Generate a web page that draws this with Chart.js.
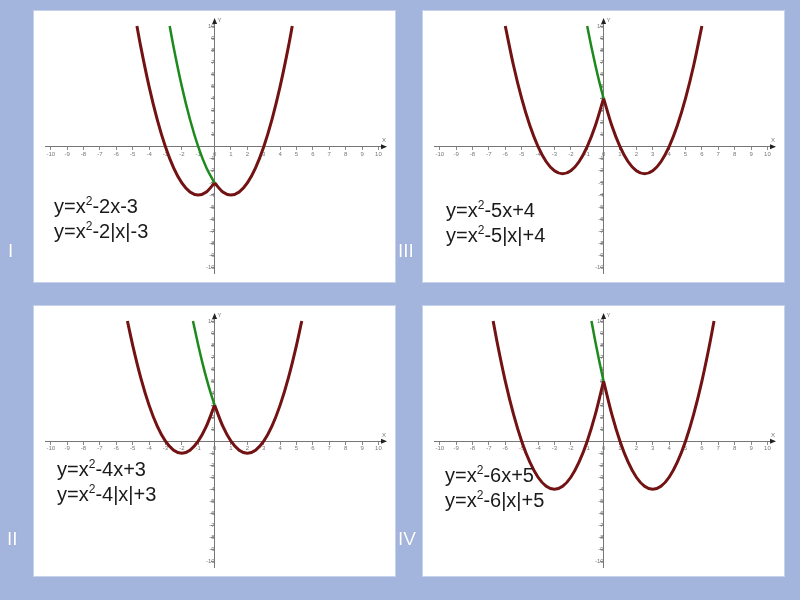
<!DOCTYPE html>
<html>
<head>
<meta charset="utf-8">
<script src="https://cdn.jsdelivr.net/npm/chart.js@4"></script>
<style>
  html, body { margin: 0; padding: 0; }
  body { width: 800px; height: 600px; background: #a4b5dd; position: relative; overflow: hidden; font-family: "Liberation Sans", Arial, sans-serif; }
  .panel { position: absolute; background: #ffffff; box-shadow: 0 0 0 1px #c6d1ec; }
  .panel canvas { position: absolute; left: 0; top: 0; }
  .formula { position: absolute; font-size: 20px; color: #1a1a1a; line-height: 25px; white-space: nowrap; }
  .formula div { height: 25px; line-height: 25px; }
  .formula sup { font-size: 12px; line-height: 0; vertical-align: 0; position: relative; top: -8px; }
  .roman { position: absolute; color: #ffffff; font-size: 19px; text-shadow: 0 0 1px #8090b8; }
</style>
</head>
<body>
<script>
// ---- data ----
const tickValues = [-10,-9,-8,-7,-6,-5,-4,-3,-2,-1,0,1,2,3,4,5,6,7,8,9,10];

// Panel I : y=x^2-2x-3 (green, x<=0) and y=x^2-2|x|-3 (red)
const p1RedLeftX  = [-4.74,-4.5,-4,-3.5,-3,-2.5,-2,-1.5,-1,-0.5,0];
const p1RedLeftY  = [10,8.25,5,2.25,0,-1.75,-3,-3.75,-4,-3.75,-3];
const p1RedRightX = [0,0.5,1,1.5,2,2.5,3,3.5,4,4.5,4.74];
const p1RedRightY = [-3,-3.75,-4,-3.75,-3,-1.75,0,2.25,5,8.25,10];
const p1GreenX    = [-2.74,-2.5,-2,-1.5,-1,-0.5,0];
const p1GreenY    = [10,8.25,5,2.25,0,-1.75,-3];
const p1Text      = [["y=x","2","-2x-3"],["y=x","2","-2|x|-3"]];

// Panel II : y=x^2-4x+3 and y=x^2-4|x|+3
const p2RedLeftX  = [-5.32,-5,-4.5,-4,-3.5,-3,-2.5,-2,-1.5,-1,-0.5,0];
const p2RedLeftY  = [10,8,5.25,3,1.25,0,-0.75,-1,-0.75,0,1.25,3];
const p2RedRightX = [0,0.5,1,1.5,2,2.5,3,3.5,4,4.5,5,5.32];
const p2RedRightY = [3,1.25,0,-0.75,-1,-0.75,0,1.25,3,5.25,8,10];
const p2GreenX    = [-1.32,-1,-0.75,-0.5,-0.25,0];
const p2GreenY    = [10,8,6.56,5.25,4.06,3];
const p2Text      = [["y=x","2","-4x+3"],["y=x","2","-4|x|+3"]];

// Panel III : y=x^2-5x+4 and y=x^2-5|x|+4
const p3RedLeftX  = [-6,-5.5,-5,-4.5,-4,-3.5,-3,-2.5,-2,-1.5,-1,-0.5,0];
const p3RedLeftY  = [10,6.75,4,1.75,0,-1.25,-2,-2.25,-2,-1.25,0,1.75,4];
const p3RedRightX = [0,0.5,1,1.5,2,2.5,3,3.5,4,4.5,5,5.5,6];
const p3RedRightY = [4,1.75,0,-1.25,-2,-2.25,-2,-1.25,0,1.75,4,6.75,10];
const p3GreenX    = [-1,-0.75,-0.5,-0.25,0];
const p3GreenY    = [10,8.31,6.75,5.31,4];
const p3Text      = [["y=x","2","-5x+4"],["y=x","2","-5|x|+4"]];

// Panel IV : y=x^2-6x+5 and y=x^2-6|x|+5
const p4RedLeftX  = [-6.74,-6.5,-6,-5.5,-5,-4.5,-4,-3.5,-3,-2.5,-2,-1.5,-1,-0.5,0];
const p4RedLeftY  = [10,8.25,5,2.25,0,-1.75,-3,-3.75,-4,-3.75,-3,-1.75,0,2.25,5];
const p4RedRightX = [0,0.5,1,1.5,2,2.5,3,3.5,4,4.5,5,5.5,6,6.5,6.74];
const p4RedRightY = [5,2.25,0,-1.75,-3,-3.75,-4,-3.75,-3,-1.75,0,2.25,5,8.25,10];
const p4GreenX    = [-0.74,-0.5,-0.25,0];
const p4GreenY    = [10,8.25,6.56,5];
const p4Text      = [["y=x","2","-6x+5"],["y=x","2","-6|x|+5"]];

const romanLabels = ["I","II","III","IV"];

// ---- layout ----
const panels = [
  {left:34,  top:11,  w:361, h:271, red:[[p1RedLeftX,p1RedLeftY],[p1RedRightX,p1RedRightY]], green:[p1GreenX,p1GreenY], text:p1Text, tx:54,  ty:194},
  {left:34,  top:306, w:361, h:270, red:[[p2RedLeftX,p2RedLeftY],[p2RedRightX,p2RedRightY]], green:[p2GreenX,p2GreenY], text:p2Text, tx:57,  ty:457},
  {left:423, top:11,  w:361, h:271, red:[[p3RedLeftX,p3RedLeftY],[p3RedRightX,p3RedRightY]], green:[p3GreenX,p3GreenY], text:p3Text, tx:446, ty:198},
  {left:423, top:306, w:361, h:270, red:[[p4RedLeftX,p4RedLeftY],[p4RedRightX,p4RedRightY]], green:[p4GreenX,p4GreenY], text:p4Text, tx:445, ty:463}
];
const romanPos = [[8,240],[7,528],[398,240],[398,528]];

function pts(xs, ys) { return xs.map((x, i) => ({x: x, y: ys[i]})); }

const axisDecor = {
  id: 'axisDecor',
  afterDraw(chart) {
    const {ctx} = chart;
    const xs = chart.scales.x, ys = chart.scales.y;
    const ox = xs.getPixelForValue(0), oy = ys.getPixelForValue(0);
    ctx.save();
    ctx.fillStyle = '#222';
    const xr = xs.right;
    ctx.beginPath();
    ctx.moveTo(xr + 2, oy); ctx.lineTo(xr - 4, oy - 2.5); ctx.lineTo(xr - 4, oy + 2.5); ctx.closePath(); ctx.fill();
    const yt = ys.top;
    ctx.beginPath();
    ctx.moveTo(ox, yt - 2); ctx.lineTo(ox - 2.5, yt + 4); ctx.lineTo(ox + 2.5, yt + 4); ctx.closePath(); ctx.fill();
    ctx.fillStyle = '#777';
    ctx.font = '6px "Liberation Sans", Arial, sans-serif';
    ctx.textAlign = 'left'; ctx.textBaseline = 'middle';
    ctx.fillText('Y', ox + 3, yt);
    ctx.textAlign = 'center'; ctx.textBaseline = 'bottom';
    ctx.fillText('X', xr - 1, oy - 3);
    ctx.restore();
  }
};

panels.forEach((p, idx) => {
  const div = document.createElement('div');
  div.className = 'panel';
  div.style.left = p.left + 'px'; div.style.top = p.top + 'px';
  div.style.width = p.w + 'px'; div.style.height = p.h + 'px';
  const cv = document.createElement('canvas');
  cv.width = p.w; cv.height = p.h;
  cv.style.width = p.w + 'px'; cv.style.height = p.h + 'px';
  div.appendChild(cv);
  document.body.appendChild(div);

  const redStyle = {borderColor: '#731212', borderWidth: 3, pointRadius: 0, cubicInterpolationMode: 'monotone', fill: false};
  new Chart(cv, {
    type: 'line',
    data: {
      datasets: [
        {label: 'green', data: pts(p.green[0], p.green[1]), borderColor: '#1e8a1e', borderWidth: 2.5, pointRadius: 0, cubicInterpolationMode: 'monotone', fill: false},
        Object.assign({label: 'red-left', data: pts(p.red[0][0], p.red[0][1])}, redStyle),
        Object.assign({label: 'red-right', data: pts(p.red[1][0], p.red[1][1])}, redStyle)
      ]
    },
    options: {
      responsive: false,
      animation: false,
      devicePixelRatio: 1,
      layout: {padding: {left: 11, right: 10, top: 9, bottom: 9}},
      plugins: {legend: {display: false}, tooltip: {enabled: false}, title: {display: false}},
      scales: {
        x: {
          type: 'linear', min: -10.35, max: 10.4,
          position: {y: 0},
          afterBuildTicks: (s) => { s.ticks = tickValues.map(v => ({value: v})); },
          grid: {display: true, drawOnChartArea: false, drawTicks: true, tickLength: 3, color: '#888', lineWidth: 1},
          border: {display: true, color: '#777', width: 1},
          ticks: {autoSkip: false, maxRotation: 0, padding: 1, color: '#777', font: {size: 6, family: '"Liberation Sans", Arial, sans-serif'}}
        },
        y: {
          type: 'linear', min: -10.47, max: 10.5,
          position: {x: 0},
          afterBuildTicks: (s) => { s.ticks = tickValues.map(v => ({value: v})); },
          grid: {display: true, drawOnChartArea: false, drawTicks: true, tickLength: 3, color: '#888', lineWidth: 1},
          border: {display: true, color: '#777', width: 1},
          ticks: {autoSkip: false, padding: 1, color: '#777', font: {size: 6, family: '"Liberation Sans", Arial, sans-serif'},
                  callback: (v) => (v === 0 ? '' : String(v))}
        }
      }
    },
    plugins: [axisDecor]
  });

  const f = document.createElement('div');
  f.className = 'formula';
  f.style.left = p.tx + 'px'; f.style.top = p.ty + 'px';
  f.innerHTML = p.text.map(t => '<div>' + t[0] + '<sup>' + t[1] + '</sup>' + t[2] + '</div>').join('');
  document.body.appendChild(f);
});

romanLabels.forEach((r, i) => {
  const d = document.createElement('div');
  d.className = 'roman';
  d.textContent = r;
  d.style.left = romanPos[i][0] + 'px'; d.style.top = romanPos[i][1] + 'px';
  document.body.appendChild(d);
});
</script>
</body>
</html>
